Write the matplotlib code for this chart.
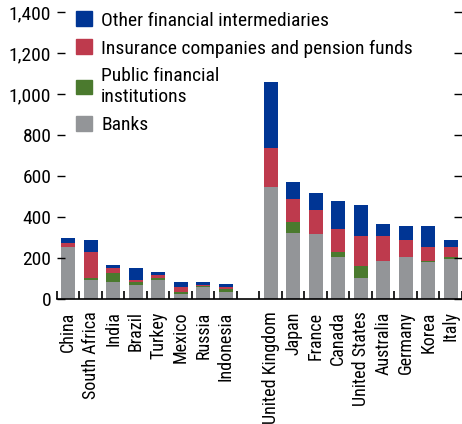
import numpy as np
import matplotlib.pyplot as plt
from matplotlib.patches import Patch

plt.rcParams['font.family'] = ['Roboto Condensed', 'DejaVu Sans']

# datos
countries = ['China', 'South Africa', 'India', 'Brazil', 'Turkey', 'Mexico', 'Russia', 'Indonesia',
             'United Kingdom', 'Japan', 'France', 'Canada', 'United States', 'Australia', 'Germany',
             'Korea', 'Italy']
banks = [254, 93, 83, 68, 93, 24, 59, 34,
         547, 322, 318, 205, 103, 186, 205, 181, 195]
public = [0, 11, 44, 15, 10, 10, 2, 15,
          0, 56, 0, 25, 58, 0, 0, 5, 10]
insurance = [20, 126, 24, 10, 14, 25, 7, 10,
             192, 111, 117, 112, 147, 122, 83, 68, 49]
other = [24, 58, 15, 58, 15, 24, 15, 14,
         321, 83, 83, 137, 151, 58, 69, 103, 34]

# posiciones: hueco entre emergentes y avanzados
x = np.array([0, 1, 2, 3, 4, 5, 6, 7, 9, 10, 11, 12, 13, 14, 15, 16, 17])

c_banks = '#939598'
c_public = '#4b7a2e'
c_ins = '#be3a4d'
c_other = '#003594'

fig = plt.figure(figsize=(4.62, 4.24), dpi=100)
ax = fig.add_axes([0.123, 0.295, 0.877, 0.676])

w = 0.62
b1 = np.array(banks)
b2 = b1 + np.array(public)
b3 = b2 + np.array(insurance)
ax.bar(x, banks, w, color=c_banks)
ax.bar(x, public, w, bottom=b1, color=c_public)
ax.bar(x, insurance, w, bottom=b2, color=c_ins)
ax.bar(x, other, w, bottom=b3, color=c_other)

ax.set_xlim(-0.5, 17.4)
ax.set_ylim(0, 1400)

fs = 14
ax.set_yticks(np.arange(0, 1401, 200))
ax.set_yticklabels(['{:,}'.format(v) for v in range(0, 1401, 200)], fontsize=fs)
ax.tick_params(axis='y', direction='in', length=6, width=1, left=True, right=True, pad=4)

# ticks entre barras y etiquetas en el centro
ax.set_xticks(np.arange(-0.5, 18, 1))
ax.set_xticklabels([])
ax.tick_params(axis='x', which='major', direction='in', length=6, width=1.2)
ax.set_xticks(x, minor=True)
ax.set_xticklabels(countries, minor=True, rotation=90, fontsize=13)
ax.tick_params(axis='x', which='minor', length=0, pad=9)

for s in ['left', 'right', 'top']:
    ax.spines[s].set_visible(False)
ax.spines['bottom'].set_linewidth(1.2)

handles = [Patch(color=c_other), Patch(color=c_ins), Patch(color=c_public), Patch(color=c_banks)]
labels = ['Other financial intermediaries', 'Insurance companies and pension funds',
          'Public financial\ninstitutions', 'Banks']
leg = ax.legend(handles, labels, loc='upper left', bbox_to_anchor=(0.028, 1.03), frameon=False,
                fontsize=fs, handlelength=0.8, handleheight=0.8, handletextpad=0.5,
                labelspacing=0.5, borderaxespad=0)
for t in leg.get_texts():
    t.set_linespacing(1.2)

fig.savefig('out.png', dpi=100)
